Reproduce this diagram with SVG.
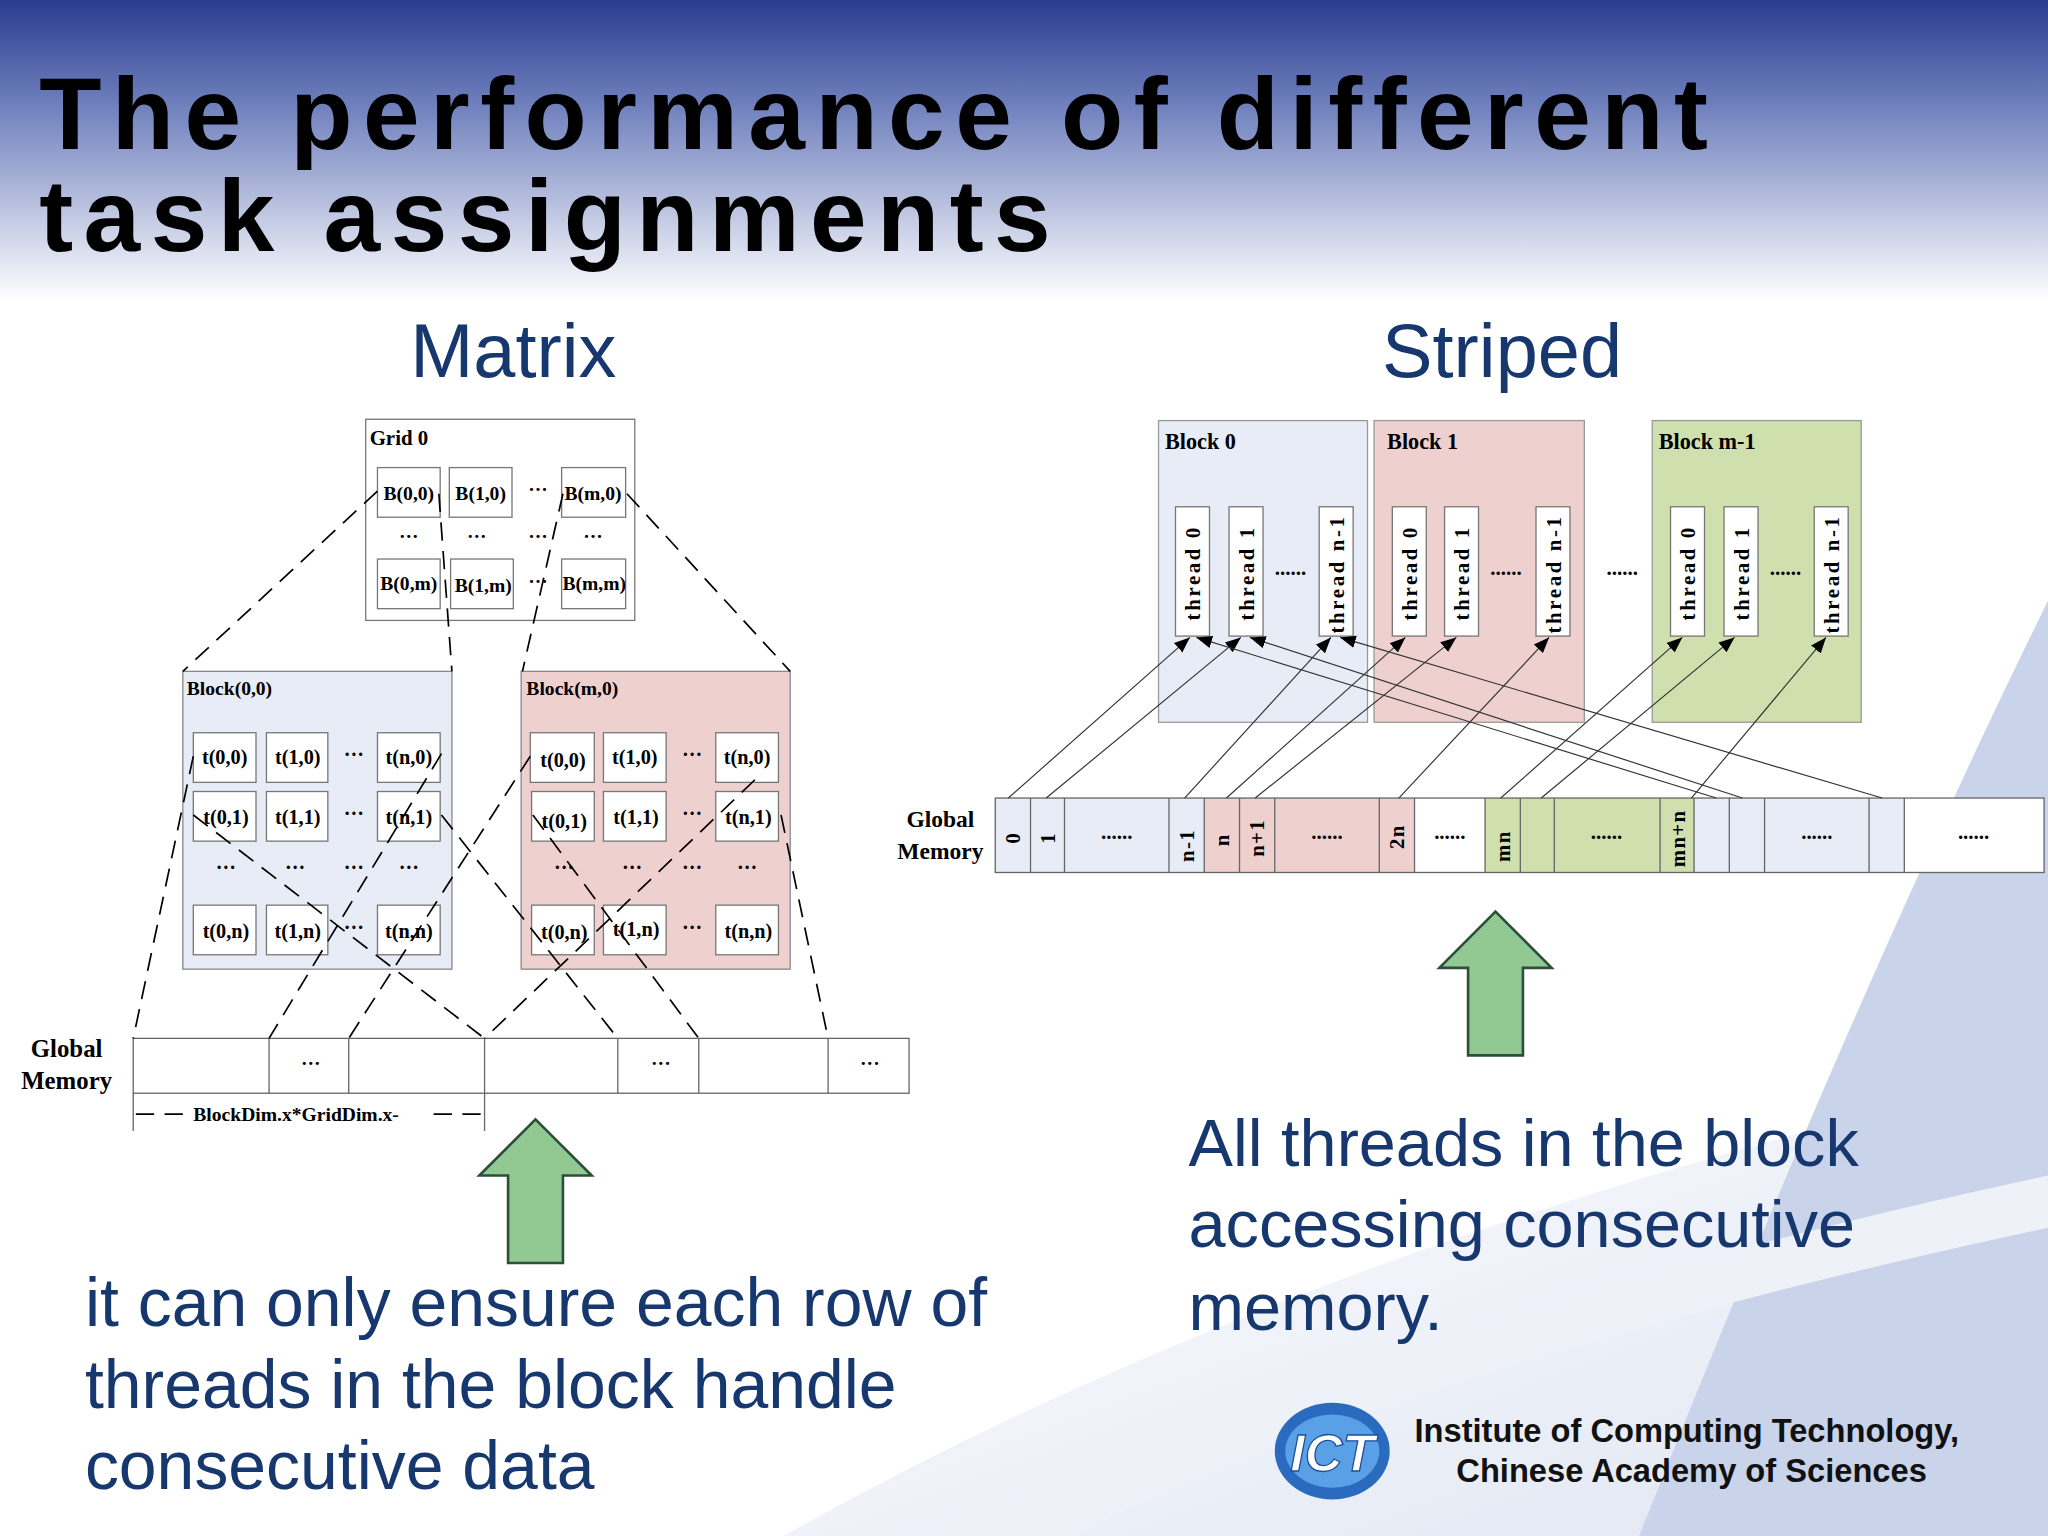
<svg xmlns="http://www.w3.org/2000/svg" width="2048" height="1536" viewBox="0 0 2048 1536">
<defs>
<linearGradient id="hdr" x1="0" y1="0" x2="0" y2="1">
<stop offset="0" stop-color="#2a3c8e"/><stop offset="0.35" stop-color="#6f80bd"/><stop offset="1" stop-color="#ffffff"/>
</linearGradient>
<linearGradient id="sw" x1="0" y1="0" x2="1" y2="1">
<stop offset="0" stop-color="#ffffff"/><stop offset="1" stop-color="#dfe5f2"/>
</linearGradient>
<marker id="ah" viewBox="0 0 10 10" refX="10" refY="5" markerWidth="12" markerHeight="12" markerUnits="userSpaceOnUse" orient="auto"><path d="M0,1 L10,5 L0,9 Z" fill="#000"/></marker>
<style>
.s{font-family:"Liberation Serif",serif;font-weight:bold;fill:#000}
.box{fill:#fff;stroke:#777;stroke-width:1}
.dash{stroke:#000;stroke-width:1.3;stroke-dasharray:14 8;fill:none}
.ln{stroke:#333;stroke-width:0.9;fill:none;marker-end:url(#ah)}
.blue{font-family:"Liberation Sans",Arial,sans-serif;fill:#17386e}
.arw{fill:#92c993;stroke:#2c4f3a;stroke-width:2}
</style>
</defs>
<rect width="2048" height="1536" fill="#fff"/>
<g transform="scale(1.306122)">
<rect x="0" y="0" width="1568" height="230" fill="url(#hdr)"/>
<path d="M600,1176 Q1000,950 1568,820 L1568,1176 Z" fill="url(#sw)"/>
<path d="M1568,460 Q1420,760 1255,1176 L1568,1176 Z" fill="#c9d3e9"/>
<path d="M700,1176 Q1100,1000 1568,900 L1568,940 Q1100,1040 820,1176 Z" fill="#eef1f8"/>

<g id="title" font-family="Liberation Sans,Arial,sans-serif" font-weight="bold" font-size="78" letter-spacing="8" fill="#000">
<text x="30" y="114">The performance of different</text>
<text x="30" y="192">task assignments</text>
</g>
<text class="blue" x="393" y="289" font-size="58" text-anchor="middle">Matrix</text>
<text class="blue" x="1150" y="289" font-size="58" text-anchor="middle">Striped</text>

<g id="grid0">
<rect x="280" y="321" width="206" height="154" class="box"/>
<text class="s" x="283" y="341" font-size="16">Grid 0</text>
<rect class="box" x="289" y="358" width="48" height="38"/><text class="s" x="313" y="383" font-size="15" text-anchor="middle">B(0,0)</text>
<rect class="box" x="344" y="358" width="48" height="38"/><text class="s" x="368" y="383" font-size="15" text-anchor="middle">B(1,0)</text>
<text class="s" x="412" y="380" font-size="15" text-anchor="middle">···</text>
<rect class="box" x="430" y="358" width="49" height="38"/><text class="s" x="454" y="383" font-size="15" text-anchor="middle">B(m,0)</text>
<text class="s" x="313" y="416" font-size="15" text-anchor="middle">···</text>
<text class="s" x="365" y="416" font-size="15" text-anchor="middle">···</text>
<text class="s" x="412" y="416" font-size="15" text-anchor="middle">···</text>
<text class="s" x="454" y="416" font-size="15" text-anchor="middle">···</text>
<rect class="box" x="289" y="428" width="48" height="38"/><text class="s" x="313" y="452" font-size="15" text-anchor="middle">B(0,m)</text>
<rect class="box" x="345" y="428" width="48" height="38"/><text class="s" x="370" y="453" font-size="15" text-anchor="middle">B(1,m)</text>
<text class="s" x="412" y="450" font-size="15" text-anchor="middle">···</text>
<rect class="box" x="430" y="428" width="49" height="38"/><text class="s" x="455" y="452" font-size="15" text-anchor="middle">B(m,m)</text>
</g>

<g id="block00">
<rect x="140" y="514" width="206" height="228" fill="#e8ecf6" stroke="#888"/>
<text class="s" x="143" y="532" font-size="15">Block(0,0)</text>
<g font-size="15.5" text-anchor="middle">
<rect class="box" x="148" y="561" width="48" height="38"/><text class="s" x="172" y="585">t(0,0)</text>
<rect class="box" x="204" y="561" width="47" height="38"/><text class="s" x="228" y="585">t(1,0)</text>
<text class="s" x="271" y="583">···</text>
<rect class="box" x="289" y="561" width="48" height="38"/><text class="s" x="313" y="585">t(n,0)</text>
<rect class="box" x="148" y="606" width="48" height="38"/><text class="s" x="173" y="631">t(0,1)</text>
<rect class="box" x="204" y="606" width="47" height="38"/><text class="s" x="228" y="631">t(1,1)</text>
<text class="s" x="271" y="628">···</text>
<rect class="box" x="289" y="606" width="48" height="38"/><text class="s" x="313" y="631">t(n,1)</text>
<text class="s" x="173" y="669">···</text><text class="s" x="226" y="669">···</text><text class="s" x="271" y="669">···</text><text class="s" x="313" y="669">···</text>
<rect class="box" x="148" y="693" width="48" height="38"/><text class="s" x="173" y="718">t(0,n)</text>
<rect class="box" x="204" y="693" width="47" height="38"/><text class="s" x="228" y="718">t(1,n)</text>
<text class="s" x="271" y="715">···</text>
<rect class="box" x="289" y="693" width="48" height="38"/><text class="s" x="313" y="718">t(n,n)</text>
</g>
</g>

<g id="blockm0">
<rect x="399" y="514" width="206" height="228" fill="#eed0cf" stroke="#888"/>
<text class="s" x="403" y="532" font-size="15">Block(m,0)</text>
<g font-size="15.5" text-anchor="middle">
<rect class="box" x="406" y="561" width="49" height="38"/><text class="s" x="431" y="587">t(0,0)</text>
<rect class="box" x="462" y="561" width="48" height="38"/><text class="s" x="486" y="585">t(1,0)</text>
<text class="s" x="530" y="583">···</text>
<rect class="box" x="548" y="561" width="48" height="38"/><text class="s" x="572" y="585">t(n,0)</text>
<rect class="box" x="407" y="606" width="48" height="38"/><text class="s" x="432" y="634">t(0,1)</text>
<rect class="box" x="462" y="606" width="48" height="38"/><text class="s" x="487" y="631">t(1,1)</text>
<text class="s" x="530" y="628">···</text>
<rect class="box" x="548" y="606" width="48" height="38"/><text class="s" x="573" y="631">t(n,1)</text>
<text class="s" x="432" y="669">···</text><text class="s" x="484" y="669">···</text><text class="s" x="530" y="669">···</text><text class="s" x="572" y="669">···</text>
<rect class="box" x="407" y="693" width="48" height="38"/><text class="s" x="432" y="719">t(0,n)</text>
<rect class="box" x="462" y="693" width="48" height="38"/><text class="s" x="487" y="717">t(1,n)</text>
<text class="s" x="530" y="715">···</text>
<rect class="box" x="548" y="693" width="48" height="38"/><text class="s" x="573" y="718">t(n,n)</text>
</g>
</g>

<g id="gmem1">
<text class="s" x="51" y="809" font-size="19" text-anchor="middle">Global</text>
<text class="s" x="51" y="834" font-size="19" text-anchor="middle">Memory</text>
<rect x="102" y="795" width="594" height="42" fill="#fff" stroke="#666"/>
<path d="M206,795V837M267,795V837M371,795V837M473,795V837M535,795V837M634,795V837" stroke="#666"/>
<g font-size="15" text-anchor="middle"><text class="s" x="238" y="819">···</text><text class="s" x="506" y="819">···</text><text class="s" x="666" y="819">···</text></g>
<path d="M102,837V866M371,837V866" stroke="#666"/>
<path d="M104,853H145M332,853H370" class="dash"/>
<text class="s" x="148" y="858" font-size="15">BlockDim.x*GridDim.x-</text>
</g>

<g id="connectors-matrix">
<path class="dash" d="M289,376L140,514M336,378L346,514M431,378L400,514M480,378L605,514"/>
<path class="dash" d="M148,579L102,795M148,624L371,795M338,577L206,795M338,624L473,795M406,579L267,795M408,624L535,795M578,597L371,795M598,624L634,795"/>
</g>

<g id="sblock0">
<rect x="887" y="322" width="160" height="231" fill="#e8ecf6" stroke="#999"/>
<text class="s" x="892" y="344" font-size="17">Block 0</text>
</g>
<g id="sblock1">
<rect x="1052" y="322" width="161" height="231" fill="#eed0cf" stroke="#999"/>
<text class="s" x="1062" y="344" font-size="17">Block 1</text>
</g>
<g id="sblockm">
<rect x="1265" y="322" width="160" height="231" fill="#cfdfae" stroke="#999"/>
<text class="s" x="1270" y="344" font-size="17">Block m-1</text>
</g>
<g id="threads" font-size="16" letter-spacing="2">
<rect class="box" x="900" y="388" width="26" height="99"/><text class="s" transform="translate(919,475) rotate(-90)">thread 0</text>
<rect class="box" x="941" y="388" width="26" height="99"/><text class="s" transform="translate(960,475) rotate(-90)">thread 1</text>
<rect class="box" x="1010" y="388" width="26" height="99"/><text class="s" transform="translate(1029,485) rotate(-90)">thread n-1</text>
<rect class="box" x="1066" y="388" width="26" height="99"/><text class="s" transform="translate(1085,475) rotate(-90)">thread 0</text>
<rect class="box" x="1106" y="388" width="26" height="99"/><text class="s" transform="translate(1125,475) rotate(-90)">thread 1</text>
<rect class="box" x="1176" y="388" width="26" height="99"/><text class="s" transform="translate(1195,485) rotate(-90)">thread n-1</text>
<rect class="box" x="1279" y="388" width="26" height="99"/><text class="s" transform="translate(1298,475) rotate(-90)">thread 0</text>
<rect class="box" x="1320" y="388" width="26" height="99"/><text class="s" transform="translate(1339,475) rotate(-90)">thread 1</text>
<rect class="box" x="1389" y="388" width="26" height="99"/><text class="s" transform="translate(1408,485) rotate(-90)">thread n-1</text>
</g>
<g font-size="16" text-anchor="middle">
<text class="s" x="988" y="440">......</text><text class="s" x="1153" y="440">......</text><text class="s" x="1242" y="440">......</text><text class="s" x="1367" y="440">......</text>
</g>

<g id="gmem2">
<text class="s" x="720" y="633" font-size="18" text-anchor="middle">Global</text>
<text class="s" x="720" y="658" font-size="18" text-anchor="middle">Memory</text>
<rect x="762" y="611" width="160" height="57" fill="#e8ecf6"/>
<rect x="922" y="611" width="161" height="57" fill="#eed0cf"/>
<rect x="1083" y="611" width="54" height="57" fill="#fff"/>
<rect x="1137" y="611" width="160" height="57" fill="#cfdfae"/>
<rect x="1297" y="611" width="161" height="57" fill="#e8ecf6"/>
<rect x="1458" y="611" width="107" height="57" fill="#fff"/>
<rect x="762" y="611" width="803" height="57" fill="none" stroke="#666"/>
<path d="M789,611V668M815,611V668M895,611V668M922,611V668M949,611V668M976,611V668M1056,611V668M1083,611V668M1137,611V668M1164,611V668M1190,611V668M1271,611V668M1297,611V668M1324,611V668M1351,611V668M1431,611V668M1458,611V668" stroke="#666"/>
<g font-size="16" letter-spacing="1">
<text class="s" transform="translate(781,646) rotate(-90)">0</text>
<text class="s" transform="translate(808,646) rotate(-90)">1</text>
<text class="s" transform="translate(914,660) rotate(-90)">n-1</text>
<text class="s" transform="translate(941,648) rotate(-90)">n</text>
<text class="s" transform="translate(968,656) rotate(-90)">n+1</text>
<text class="s" transform="translate(1075,650) rotate(-90)">2n</text>
<text class="s" transform="translate(1156,660) rotate(-90)">mn</text>
<text class="s" transform="translate(1290,664) rotate(-90)">mn+n</text>
</g>
<g font-size="16" text-anchor="middle">
<text class="s" x="855" y="642">......</text><text class="s" x="1016" y="642">......</text><text class="s" x="1110" y="642">......</text><text class="s" x="1230" y="642">......</text><text class="s" x="1391" y="642">......</text><text class="s" x="1511" y="642">......</text>
</g>
</g>

<g id="connectors-striped">
<path class="ln" d="M772,611L911,488"/>
<path class="ln" d="M801,611L950,488"/>
<path class="ln" d="M907,611L1019,488"/>
<path class="ln" d="M939,611L1076,488"/>
<path class="ln" d="M961,611L1115,488"/>
<path class="ln" d="M1071,611L1186,488"/>
<path class="ln" d="M1149,611L1288,488"/>
<path class="ln" d="M1180,611L1328,488"/>
<path class="ln" d="M1295,611L1398,488"/>
<path class="ln" d="M1314,611L916,488"/>
<path class="ln" d="M1334,611L957,488"/>
<path class="ln" d="M1441,611L1026,488"/>
</g>

<g id="arrows">
<path class="arw" d="M410,857L453,900H431V967H389V900H367Z"/>
<path class="arw" d="M1145,698L1188,741H1166V808H1124V741H1102Z"/>
</g>

<g font-size="52">
<text class="blue" x="65" y="1015">it can only ensure each row of</text>
<text class="blue" x="65" y="1078">threads in the block handle</text>
<text class="blue" x="65" y="1140">consecutive data</text>
<text class="blue" x="910" y="893" font-size="51">All threads in the block</text>
<text class="blue" x="910" y="955" font-size="51">accessing consecutive</text>
<text class="blue" x="910" y="1018" font-size="51">memory.</text>
</g>

<g id="logo">
<ellipse cx="1020" cy="1111" rx="44" ry="37" fill="#2a6bc0"/>
<ellipse cx="1020" cy="1111" rx="36" ry="28" fill="#5aa0e6"/>
<text x="1020" y="1126" font-family="Liberation Sans,Arial,sans-serif" font-weight="bold" font-style="italic" font-size="40" fill="#fff" text-anchor="middle" stroke="#1d4e9a" stroke-width="1">ICT</text>
</g>
<g font-family="Liberation Sans,Arial,sans-serif" font-weight="bold" font-size="25" fill="#111">
<text x="1083" y="1104">Institute  of Computing Technology,</text>
<text x="1115" y="1135">Chinese Academy of  Sciences</text>
</g>
</g>
</svg>
